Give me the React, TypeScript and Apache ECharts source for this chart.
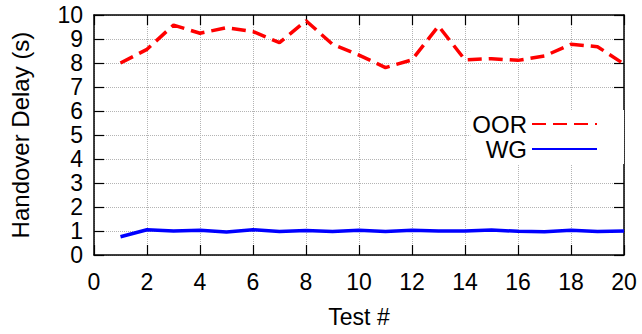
import React, { useEffect, useRef } from "react";
import * as echarts from "echarts";

const testNumbers = [1, 2, 3, 4, 5, 6, 7, 8, 9, 10, 11, 12, 13, 14, 15, 16, 17, 18, 19, 20];
const oorDelay = [8.0, 8.57, 9.58, 9.24, 9.47, 9.31, 8.85, 9.76, 8.78, 8.33, 7.81, 8.13, 9.54, 8.13, 8.18, 8.11, 8.29, 8.78, 8.68, 7.96];
const wgDelay = [0.76, 1.05, 1.0, 1.03, 0.96, 1.05, 0.98, 1.02, 0.98, 1.03, 0.98, 1.03, 1.0, 1.0, 1.04, 0.99, 0.97, 1.03, 0.98, 1.0];
const seriesNames = ["OOR", "WG"];
const xTitle = "Test #";
const yTitle = "Handover Delay (s)";

const FONT = "'Liberation Sans', Arial, Helvetica, sans-serif";

export default function App() {
  const ref = useRef<HTMLDivElement>(null);
  useEffect(() => {
    if (!ref.current) return;
    const chart = echarts.init(ref.current, null, { renderer: "svg" });
    const grid = { left: 94, right: 18, top: 15, bottom: 79 };
    const split = { show: true, lineStyle: { color: "#b4b4b4", type: "dotted" as const, width: 1 } };
    const axisLine = { show: true, onZero: false, lineStyle: { color: "#000", width: 1.5 } };
    const tick = { show: true, inside: true, length: 10, lineStyle: { color: "#000", width: 1.2 } };
    const legendText = { fontFamily: FONT, fontSize: 24, color: "#000" };
    const legendItem = { opacity: 0, color: "transparent", borderWidth: 0 };
    chart.setOption({
      animation: false,
      backgroundColor: "#fff",
      grid,
      legend: [
        {
          data: [seriesNames[0]],
          orient: "vertical",
          align: "right",
          right: 18,
          top: 110,
          padding: [2, 26, 2, 2],
          itemWidth: 65,
          itemHeight: 14,
          itemGap: 12,
          backgroundColor: "#fff",
          itemStyle: legendItem,
          textStyle: legendText,
        },
        {
          data: [seriesNames[1]],
          orient: "vertical",
          align: "right",
          right: 18,
          top: 137,
          padding: [0, 26, 3, 18],
          itemWidth: 65,
          itemHeight: 14,
          itemGap: 12,
          backgroundColor: "#fff",
          itemStyle: legendItem,
          textStyle: legendText,
        },
      ],
      xAxis: [
        {
          type: "value",
          min: 0,
          max: 20,
          interval: 2,
          name: xTitle,
          nameLocation: "middle",
          nameGap: 50,
          nameTextStyle: { fontFamily: FONT, fontSize: 23, color: "#000" },
          axisLine,
          axisTick: tick,
          splitLine: split,
          axisLabel: { fontFamily: FONT, fontSize: 23, color: "#000", margin: 15 },
        },
        {
          type: "value",
          position: "top",
          min: 0,
          max: 20,
          interval: 2,
          axisLine,
          axisTick: tick,
          splitLine: { show: false },
          axisLabel: { show: false },
        },
      ],
      yAxis: [
        {
          type: "value",
          min: 0,
          max: 10,
          interval: 1,
          name: yTitle,
          nameLocation: "middle",
          nameRotate: 90,
          nameGap: 62,
          nameTextStyle: { fontFamily: FONT, fontSize: 24, color: "#000" },
          axisLine,
          axisTick: tick,
          splitLine: split,
          axisLabel: { fontFamily: FONT, fontSize: 23, color: "#000", margin: 11 },
        },
        {
          type: "value",
          position: "right",
          min: 0,
          max: 10,
          interval: 1,
          axisLine,
          axisTick: tick,
          splitLine: { show: false },
          axisLabel: { show: false },
        },
      ],
      series: [
        {
          name: seriesNames[0],
          type: "line",
          symbol: "none",
          data: testNumbers.map((x, i) => [x, oorDelay[i]]),
          lineStyle: { color: "#ff0000", width: 3.5, type: [14, 7] },
          itemStyle: { color: "#ff0000" },
        },
        {
          name: seriesNames[1],
          type: "line",
          symbol: "none",
          data: testNumbers.map((x, i) => [x, wgDelay[i]]),
          lineStyle: { color: "#0000ff", width: 3.5 },
          itemStyle: { color: "#0000ff" },
        },
      ],
    });
    return () => chart.dispose();
  }, []);
  return <div ref={ref} style={{ width: 642, height: 334, position: "absolute", left: 0, top: 0 }} />;
}
